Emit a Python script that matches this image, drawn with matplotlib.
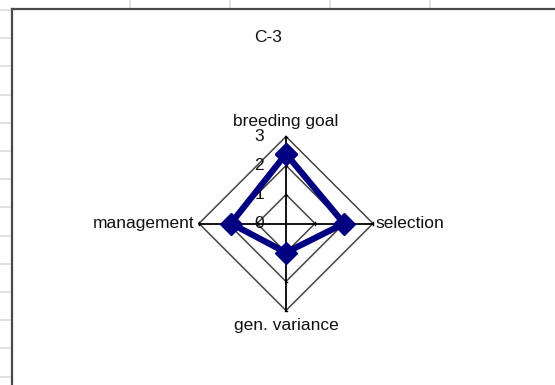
import numpy as np
import matplotlib
matplotlib.use("Agg")
import matplotlib.pyplot as plt
from matplotlib.lines import Line2D

plt.rcParams['font.family'] = ['Liberation Sans', 'DejaVu Sans']

title = "C-3"
categories = ["breeding goal", "selection", "gen. variance", "management"]
values = [2.4, 2.0, 1.0, 1.9]
rings = [1, 2, 3]
tick_labels = ["0", "1", "2", "3"]

W, H = 555, 385
fig = plt.figure(figsize=(W / 100, H / 100), dpi=100)
fig.patch.set_facecolor("white")


def fx(px):
    return px / W


def fy(py):
    return 1 - py / H


# sheet cell lines around the chart object
for gx in [130, 230, 330, 430]:
    fig.add_artist(Line2D([fx(gx), fx(gx)], [fy(0), fy(7)], color="#dcdcdc", lw=1.2))
for k in range(14):
    gy = 10 + 28.2 * k
    fig.add_artist(Line2D([fx(0), fx(10)], [fy(gy), fy(gy)], color="#dcdcdc", lw=1.2))

# chart frame (left and top edges visible)
fig.add_artist(Line2D([fx(11.5), fx(11.5)], [fy(8.5), fy(H)], color="#4a4a4a", lw=1.6))
fig.add_artist(Line2D([fx(11.5), fx(W)], [fy(8.5), fy(8.5)], color="#4a4a4a", lw=1.6))

# radar axes: one unit = 29 px, centre at (286, 223.5)
unit = 29.0
cx, cy = 286, 223.5
half = 120
ax = fig.add_axes([fx(cx - half), fy(cy + half), 2 * half / W, 2 * half / H])
lim = half / unit
ax.set_xlim(-lim, lim)
ax.set_ylim(-lim, lim)
ax.axis("off")

n = len(categories)
angles = np.pi / 2 - np.arange(n) * 2 * np.pi / n
ca, sa = np.cos(angles), np.sin(angles)

# diamond grid rings
for r in rings:
    xs = np.append(r * ca, r * ca[0])
    ys = np.append(r * sa, r * sa[0])
    ax.plot(xs, ys, color="#444444", lw=1.1, zorder=1)

# spokes with small tick marks
rmax = max(rings)
for c, s in zip(ca, sa):
    ax.plot([0, rmax * c], [0, rmax * s], color="black", lw=1.3, zorder=2)
    for r in rings:
        t = 0.05
        ax.plot([r * c - t * s, r * c + t * s], [r * s + t * c, r * s - t * c],
                color="black", lw=1.0, zorder=2)

fs = 12.5
txt = "#111111"

# axis value labels
for i, lab in enumerate(tick_labels):
    ax.text(-27 / unit, i, lab, ha="center", va="center", fontsize=fs, color=txt, zorder=3)

# data series
vx = np.append(np.array(values) * ca, values[0] * ca[0])
vy = np.append(np.array(values) * sa, values[0] * sa[0])
ax.plot(vx, vy, color="#000080", lw=4.5, marker="D", markersize=11.5, zorder=4,
        solid_joinstyle="miter")

# category labels at the spoke ends
offsets = [(0, 15, "center", "center"), (2, 0, "left", "center"),
           (0, -15, "center", "center"), (-5, 0, "right", "center")]
for lab, c, s, (ox, oy, ha, va) in zip(categories, ca, sa, offsets):
    ax.annotate(lab, (rmax * c, rmax * s), xytext=(ox, oy), textcoords="offset pixels",
                ha=ha, va=va, fontsize=fs, color=txt, annotation_clip=False)

fig.text(fx(268), fy(37), title, ha="center", va="center", fontsize=fs, color=txt)

fig.savefig("out.png", dpi=100)
